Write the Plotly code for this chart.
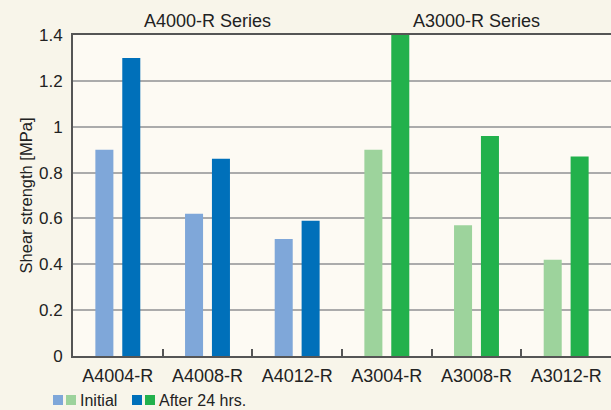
import plotly.graph_objects as go

# ── data ──────────────────────────────────────────────────────────────────────
categories = ["A4004-R", "A4008-R", "A4012-R", "A3004-R", "A3008-R", "A3012-R"]
initial    = [0.90, 0.62, 0.51, 0.90, 0.57, 0.42]
after_24h  = [1.30, 0.86, 0.59, 1.40, 0.96, 0.87]
series_groups = ["A4000-R Series", "A3000-R Series"]
y_ticks = [0, 0.2, 0.4, 0.6, 0.8, 1.0, 1.2, 1.4]

# ── palette ───────────────────────────────────────────────────────────────────
_BLUE_LT  = "#7FA7D9"
_BLUE     = "#0070BA"
_GREEN_LT = "#9DD39C"
_GREEN    = "#22B14C"
_PAPER    = "#F8F5EA"
_PLOT     = "#FDFAF3"
_GRID     = "#ABABAB"
_AXIS     = "#555555"
_TEXT     = "#222222"
_FONT     = "Liberation Sans, Arial, sans-serif"

init_colors  = [_BLUE_LT] * 3 + [_GREEN_LT] * 3
after_colors = [_BLUE] * 3 + [_GREEN] * 3

fig = go.Figure()
fig.add_trace(go.Bar(x=categories, y=initial, marker_color=init_colors,
                     marker_line_width=0, name="Initial"))
fig.add_trace(go.Bar(x=categories, y=after_24h, marker_color=after_colors,
                     marker_line_width=0, name="After 24 hrs."))

fig.update_layout(
    width=611, height=410,
    margin=dict(l=73, r=0, t=35, b=54),
    paper_bgcolor=_PAPER, plot_bgcolor=_PLOT,
    font=dict(family=_FONT, size=17, color=_TEXT),
    barmode="group", bargap=0.4, bargroupgap=0.33,
    showlegend=False,
)
fig.update_xaxes(
    showline=True, linecolor=_AXIS, linewidth=2, mirror=True,
    ticks="inside", tickson="boundaries", ticklen=7, tickwidth=2, tickcolor=_AXIS,
    showgrid=False, tickfont=dict(size=18, color=_TEXT), ticklabelstandoff=2,
)
fig.update_yaxes(
    range=[0, 1.4], tickvals=y_ticks, ticktext=[f"{v:g}" for v in y_ticks],
    showline=True, linecolor=_AXIS, linewidth=2,
    showgrid=True, gridcolor=_GRID, gridwidth=2, zeroline=False,
    ticks="", tickfont=dict(size=17, color=_TEXT), ticklabelstandoff=5,
    title=dict(text="Shear strength [MPa]", font=dict(size=16.5, color=_TEXT), standoff=2),
)

# series headers above each group of three
for i, label in enumerate(series_groups):
    fig.add_annotation(
        x=(i + 0.5) / 2, y=1, xref="paper", yref="paper",
        xanchor="center", yanchor="bottom",
        yshift=2, text=label, showarrow=False, font=dict(size=18, color=_TEXT),
    )

# custom legend: two swatches per entry
legend = [([_BLUE_LT, _GREEN_LT], "Initial", 53), ([_BLUE, _GREEN], "After 24 hrs.", 132)]
for cols, text, x0 in legend:
    for j, c in enumerate(cols):
        fig.add_shape(type="rect", xref="paper", yref="paper",
                      x0=(x0 - 73 + j * 13) / 538, x1=(x0 - 73 + j * 13 + 10) / 538,
                      y0=(356 - 405) / 321, y1=(356 - 395) / 321,
                      fillcolor=c, line_width=0)
    fig.add_annotation(x=(x0 - 73 + 25) / 538, y=(356 - 400) / 321,
                       xref="paper", yref="paper", xanchor="left", yanchor="middle",
                       text=text, showarrow=False, font=dict(size=16, color=_TEXT))

fig.write_html("out.html", config={"displayModeBar": False},
               post_script="document.body.style.margin='0';")
